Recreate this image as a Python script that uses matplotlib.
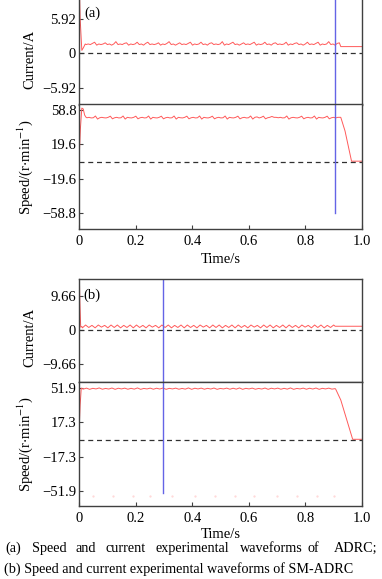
import numpy as np
import matplotlib
matplotlib.use("Agg")
import matplotlib.pyplot as plt

plt.rcParams['font.family'] = ['Liberation Serif', 'DejaVu Serif']
plt.rcParams['mathtext.fontset'] = 'stix'

# ---------------- data ----------------
time_ticks = [0, 0.2, 0.4, 0.6, 0.8, 1.0]
time_tick_labels = ["0", "0.2", "0.4", "0.6", "0.8", "1.0"]

cur_a_ticks = [5.92, 0, -5.92]
spd_a_ticks = [58.8, 19.6, -19.6, -58.8]
cur_b_ticks = [9.66, 0, -9.66]
spd_b_ticks = [51.9, 17.3, -17.3, -51.9]

# (a) ADRC current: start-up transient then steady band
cur_a_start_t = [0.0, 0.004, 0.010, 0.016, 0.022]
cur_a_start_v = [14.0, 6.0, 0.5, 1.0, 1.6]
cur_a_steady = [1.5, 1.6, 1.5, 1.7, 1.9, 1.4, 1.6, 1.5, 1.6, 1.8, 1.5, 1.6, 1.4, 1.6, 2.0,
                1.5, 1.6, 1.5, 1.7, 1.8, 1.4, 1.6, 1.5, 1.6, 1.9, 1.5, 1.6, 1.4, 1.7, 1.9,
                1.5, 1.6, 1.5, 1.6, 1.8, 1.4, 1.6, 1.5, 1.7, 2.0, 1.5, 1.6, 1.4, 1.6, 1.8,
                1.5, 1.6, 1.5, 1.7, 1.9, 1.4, 1.6, 1.5, 1.6, 1.9, 1.5, 1.6, 1.4, 1.7, 1.8,
                1.5, 1.6, 1.5, 1.6, 2.0, 1.4, 1.6, 1.5, 1.7, 1.9, 1.5, 1.6, 1.4, 1.6, 1.8,
                1.5, 1.6, 1.5, 1.7, 1.9, 1.4, 1.6, 1.5, 1.6, 1.9, 1.5, 1.6, 1.4, 1.7, 1.8,
                1.5, 1.6, 1.5, 1.6, 1.9, 1.4, 1.6, 1.5, 1.7, 1.8, 1.5, 1.6, 1.4, 1.6, 1.9,
                1.5, 1.6, 1.5, 1.7, 1.9, 1.4, 1.6, 1.5, 1.6, 2.0, 1.5, 1.6, 1.4, 1.7, 1.8]
cur_a_end_t = [0.925, 1.0]
cur_a_end_v = [1.15, 1.15]

# (a) ADRC speed
spd_a_start_t = [0.0, 0.005, 0.010, 0.015, 0.020, 0.025]
spd_a_start_v = [0.0, 38.0, 61.0, 60.0, 53.0, 50.5]
spd_a_steady = [50.0, 50.5, 49.8, 50.0, 52.0, 48.5, 50.0, 50.5, 50.0, 49.8, 50.5, 51.8, 48.8, 50.0, 50.5,
                49.8, 50.0, 52.0, 48.5, 50.5, 50.0, 49.8, 50.5, 51.8, 48.8, 50.0, 50.5, 49.8, 50.0, 52.0,
                48.5, 50.5, 50.0, 49.8, 50.5, 51.8, 48.8, 50.0, 50.5, 49.8, 50.0, 52.0, 48.5, 50.5, 50.0,
                49.8, 50.5, 51.8, 48.8, 50.0, 50.5, 49.8, 50.0, 52.0, 48.5, 50.5, 50.0, 49.8, 50.5, 51.8,
                48.8, 50.0, 50.5, 49.8, 50.0, 52.0, 48.5, 50.5, 50.0, 49.8, 50.5, 51.8, 48.8, 50.0, 50.5,
                49.8, 50.0, 52.0, 48.5, 50.5, 51.0, 49.8, 50.5, 51.8, 48.8, 50.0, 50.5, 51.5, 50.5, 50.5,
                50.0, 50.5, 49.8, 50.0, 52.0, 48.5, 50.0, 50.5, 50.0, 49.8, 50.5, 51.8, 48.8, 50.0, 50.5,
                49.8, 50.0, 52.0, 48.5, 50.5, 50.0, 49.8, 50.5, 51.8, 48.8, 50.0, 50.5, 49.8, 50.5, 50.5]
spd_a_end_t = [0.925, 0.940, 0.963, 1.0]
spd_a_end_v = [50.5, 35.0, 0.6, 0.6]

# (b) SM-ADRC current
cur_b_start_t = [0.0, 0.003, 0.006, 0.010]
cur_b_start_v = [20.0, 8.0, 0.8, 1.0]
cur_b_steady = [0.6, 1.4, 0.7, 1.3, 0.6, 1.4, 0.8, 1.3, 0.6, 1.4, 0.7, 1.4, 0.6, 1.3, 0.7, 1.4,
                0.6, 1.4, 0.7, 1.3, 0.6, 1.4, 0.8, 1.3, 0.6, 1.4, 0.7, 1.4, 0.6, 1.3, 0.7, 1.4,
                0.6, 1.4, 0.7, 1.3, 0.6, 1.4, 0.8, 1.3, 0.6, 1.4, 0.7, 1.4, 0.6, 1.3, 0.7, 1.4,
                0.6, 1.4, 0.7, 1.3, 0.6, 1.4, 0.8, 1.3, 0.6, 1.4, 0.7, 1.4, 0.6, 1.3, 0.7, 1.4,
                0.6, 1.4, 0.7, 1.3, 0.6, 1.4, 0.8, 1.3, 0.6, 1.4, 0.7, 1.4, 0.6, 1.3, 0.7, 1.4]
cur_b_end_t = [0.905, 1.0]
cur_b_end_v = [1.05, 1.05]

# (b) SM-ADRC speed
spd_b_start_t = [0.0, 0.004, 0.008, 0.012]
spd_b_start_v = [7.0, 35.0, 52.0, 51.5]
spd_b_steady = [51.0, 52.0, 50.8, 51.8, 51.2, 52.2, 50.9, 51.7, 51.1, 52.1, 50.8, 51.9, 51.2, 52.0,
                50.9, 51.8, 51.0, 52.2, 50.8, 51.7, 51.2, 52.0, 50.9, 51.9, 51.1, 52.1, 50.8, 51.8,
                51.2, 52.0, 50.9, 51.7, 51.0, 52.2, 50.8, 51.9, 51.2, 52.0, 50.9, 51.8, 51.1, 52.1,
                50.8, 51.7, 51.2, 52.0, 50.9, 51.9, 51.0, 52.2, 50.8, 51.8, 51.2, 52.0, 50.9, 51.7,
                51.1, 52.1, 50.8, 51.9, 51.2, 52.0, 50.9, 51.8, 51.0, 52.2, 50.8, 51.7, 51.2, 52.0,
                50.9, 51.9, 51.1, 52.1, 50.8, 51.8, 51.2, 52.0, 51.0, 51.5]
spd_b_end_t = [0.907, 0.925, 0.967, 1.0]
spd_b_end_v = [51.0, 40.0, 0.3, 0.3]

# faint artefact dots near the bottom of (b) speed panel
ghost_t = [0.05, 0.12, 0.19, 0.25, 0.33, 0.41, 0.48, 0.55, 0.62, 0.70, 0.77, 0.84, 0.90]
ghost_v = [-57.5, -57.5, -57.5, -57.5, -57.5, -57.5, -57.5, -57.5, -57.5, -57.5, -57.5, -57.5, -57.5]

marker_a = 0.905
marker_b = 0.298

# ---------------- figure ----------------
W, H = 382, 579
fig = plt.figure(figsize=(W / 100, H / 100), dpi=100)

def fr(x0, y0, x1, y1):
    return [x0 / W, 1 - y1 / H, (x1 - x0) / W, (y1 - y0) / H]

RED = '#ff5a5a'
BLUE = '#6464e6'
SPINE = '#404040'
FS = 10.5
CAP_FS = 10.2

ax_ca = fig.add_axes(fr(79, 0, 362, 104.5))
ax_sa = fig.add_axes(fr(79, 104.5, 362, 229))
ax_cb = fig.add_axes(fr(79, 279, 362, 382))
ax_sb = fig.add_axes(fr(79, 382, 362, 506))

def series(t0, v0, steady, t1, v1, t_from, t_to):
    ts = np.linspace(t_from, t_to, len(steady))
    t = np.concatenate([t0, ts, t1])
    v = np.concatenate([v0, steady, v1])
    return t, v

t, v = series(cur_a_start_t, cur_a_start_v, cur_a_steady, cur_a_end_t, cur_a_end_v, 0.025, 0.92)
ax_ca.plot(t, v, color=RED, lw=0.7)
t, v = series(spd_a_start_t, spd_a_start_v, spd_a_steady, spd_a_end_t, spd_a_end_v, 0.028, 0.922)
ax_sa.plot(t, v, color=RED, lw=0.7)
t, v = series(cur_b_start_t, cur_b_start_v, cur_b_steady, cur_b_end_t, cur_b_end_v, 0.012, 0.90)
ax_cb.plot(t, v, color=RED, lw=0.7)
t, v = series(spd_b_start_t, spd_b_start_v, spd_b_steady, spd_b_end_t, spd_b_end_v, 0.015, 0.905)
ax_sb.plot(t, v, color=RED, lw=0.7)
ax_sb.plot(ghost_t, ghost_v, ls='none', marker='.', ms=1.2, color='#ffd6d6')

ylims = [(-8.79, 9.15), (-76.6, 65.1), (-14.7, 14.4), (-67.1, 58.2)]
yticks = [cur_a_ticks, spd_a_ticks, cur_b_ticks, spd_b_ticks]
for ax, yl, yt in zip([ax_ca, ax_sa, ax_cb, ax_sb], ylims, yticks):
    ax.axhline(0, color='#303030', ls=(0, (4, 3)), lw=0.9)
    ax.set_xlim(0, 1.0)
    ax.set_ylim(*yl)
    ax.set_yticks(yt)
    ax.set_yticklabels([('%g' % y).replace('-', '\u2212') for y in yt])
    ax.tick_params(axis='y', direction='in', length=3, width=0.8, labelsize=FS, pad=2, color=SPINE)
    ax.tick_params(axis='x', direction='in', length=3, width=0.8, labelsize=FS, pad=4, color=SPINE)
    for s in ax.spines.values():
        s.set_color(SPINE)
        s.set_linewidth(1.0)

for ax in [ax_ca, ax_cb]:
    ax.set_xticks([])
    ax.set_ylabel('Current/A', fontsize=FS)
    ax.yaxis.set_label_coords(-0.152, 0.43)
ax_ca.spines['top'].set_visible(False)

for ax, lp in [(ax_sa, 4), (ax_sb, 2.5)]:
    ax.set_xticks(time_ticks)
    ax.set_xticklabels(time_tick_labels)
    ax.set_xlabel('Time/s', fontsize=FS, labelpad=lp)
    ax.set_ylabel(r'Speed/(r$\cdot$min$^{-1}$)', fontsize=FS)
    ax.yaxis.set_label_coords(-0.155, 0.5)

# vertical marker lines
ax_ca.axvline(marker_a, color=BLUE, lw=1.0)
ax_sa.axvline(marker_a, ymin=(-58.8 + 76.6) / (65.1 + 76.6), ymax=1, color=BLUE, lw=1.0)
ax_cb.axvline(marker_b, color=BLUE, lw=1.0)
ax_sb.axvline(marker_b, ymin=(-53.5 + 67.1) / (58.2 + 67.1), ymax=1, color=BLUE, lw=1.0)

ax_ca.text(0.018, 0.875, '(a)', transform=ax_ca.transAxes, fontsize=FS, va='center', ha='left')
ax_cb.text(0.015, 0.845, '(b)', transform=ax_cb.transAxes, fontsize=FS, va='center', ha='left')

# captions
words = ['(a)', 'Speed', 'and', 'current', 'experimental', 'waveforms', 'of', 'ADRC;']
word_x = [5, 32, 76, 106, 155, 240, 308, 334]
for w, x in zip(words, word_x):
    fig.text(x / W, 1 - 548.5 / H, w, fontsize=CAP_FS, ha='left', va='center')
fig.text(4 / W, 1 - 569 / H, '(b) Speed and current experimental waveforms of SM-ADRC',
         fontsize=CAP_FS, ha='left', va='center')

fig.savefig('out.png', dpi=100)
